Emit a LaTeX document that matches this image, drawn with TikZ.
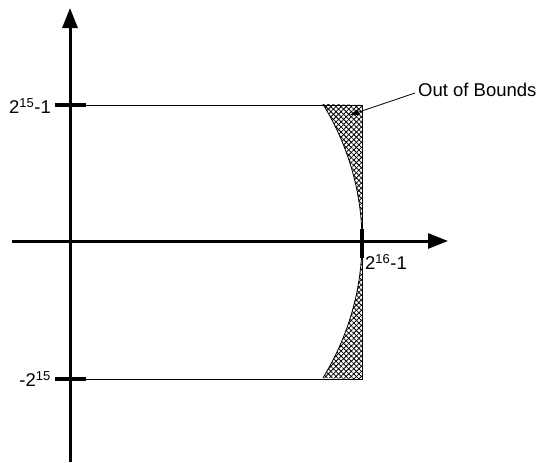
\documentclass[tikz,border=0pt]{standalone}
\usepackage{fontspec}
\setmainfont{Liberation Sans}
\usetikzlibrary{arrows.meta,patterns.meta}
\begin{document}
\begin{tikzpicture}[x=1pt,y=-1pt,
  axis/.style={line width=3pt,-{Triangle[length=20pt,width=15pt]}},
  tick/.style={line width=4pt},
  thin/.style={line width=0.8pt},
  lbl/.style={font=\fontsize{18.5}{22}\selectfont,inner sep=1pt}]
\useasboundingbox (0,0) rectangle (544,463);
% hatched region
\path[pattern={Lines[angle=45,distance=3.6pt,line width=0.8pt]}]
  plot[domain=30:-30,samples=40,variable=\t] ({70+292*cos(\t)},{241-274*sin(\t)}) -- (362,379) -- (362,105) -- cycle;
\path[pattern={Lines[angle=-45,distance=3.6pt,line width=0.8pt]}]
  plot[domain=30:-30,samples=40,variable=\t] ({70+292*cos(\t)},{241-274*sin(\t)}) -- (362,379) -- (362,105) -- cycle;
\draw[thin] plot[domain=30:-30,samples=40,variable=\t,smooth] ({70+292*cos(\t)},{241-274*sin(\t)});
% coordinates
\coordinate (tl) at (70,105);
\coordinate (tr) at (362,105);
\coordinate (bl) at (70,379);
\coordinate (br) at (362,379);
\draw[thin] (tl) -- (tr) -- (br) -- (bl);
% axes
\coordinate (ybot) at (70,462);
\coordinate (ytop) at (70,8);
\coordinate (xl) at (12,241);
\coordinate (xr) at (448,241);
\draw[axis] (ybot) -- (ytop);
\draw[axis] (xl) -- (xr);
% ticks
\draw[tick] (55,105) -- (86,105);
\draw[tick] (55,379) -- (86,379);
\draw[tick] (362,229) -- (362,258);
% labels
\node[lbl,anchor=east] (ymax) at (52,106) {2\textsuperscript{15}-1};
\node[lbl,anchor=east] (ymin) at (52,379) {-2\textsuperscript{15}};
\node[lbl,anchor=west] (xmax) at (364,262) {2\textsuperscript{16}-1};
\node[lbl,anchor=west] (oob) at (417,90) {Out of Bounds};
\coordinate (oobtip) at (350,115);
\draw[thin,-{Triangle[length=9pt,width=6pt]}] (oob.west) ++(-2,3) coordinate (oobs) -- (oobtip);
\end{tikzpicture}
\end{document}
